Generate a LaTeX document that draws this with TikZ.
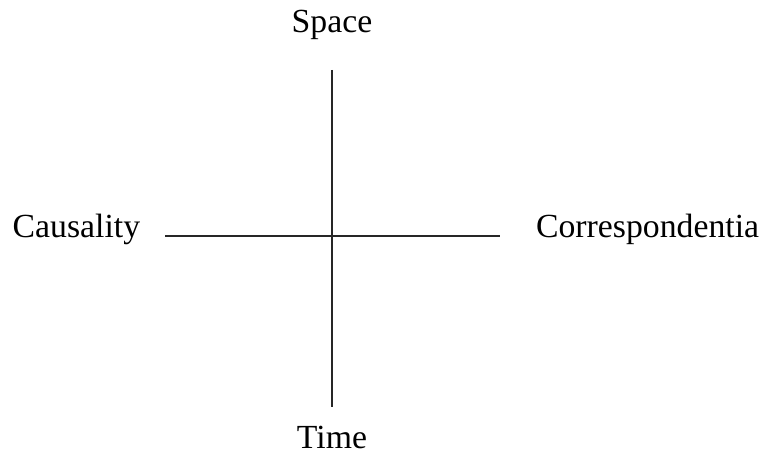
\documentclass[tikz,border=0pt]{standalone}
\usepackage{fontspec}
\setmainfont{Liberation Serif}
\usepackage{tikz}
\usetikzlibrary{positioning}

\begin{document}
\begin{tikzpicture}
    \useasboundingbox (0,0) rectangle (19.225,11.4);
    \tikzset{axislabel/.style={anchor=base, inner sep=0pt, font=\fontsize{24}{28}\selectfont},
             axisline/.style={line width=1.1pt, black!85}}
    \node[axislabel] (space) at (8.3,10.575) {Space};
    \node[axislabel] (time) at (8.3,0.2) {Time};
    \node[axislabel] (causality) at (1.91,5.45) {Causality};
    \node[axislabel] (corresp) at (16.19,5.45) {Correspondentia};
    \coordinate (top) at (8.3,9.65);
    \coordinate (bottom) at (8.3,1.225);
    \coordinate (left) at (4.125,5.5);
    \coordinate (right) at (12.5,5.5);
    \draw[axisline] (top) -- (bottom);
    \draw[axisline] (left) -- (right);
\end{tikzpicture}
\end{document}
